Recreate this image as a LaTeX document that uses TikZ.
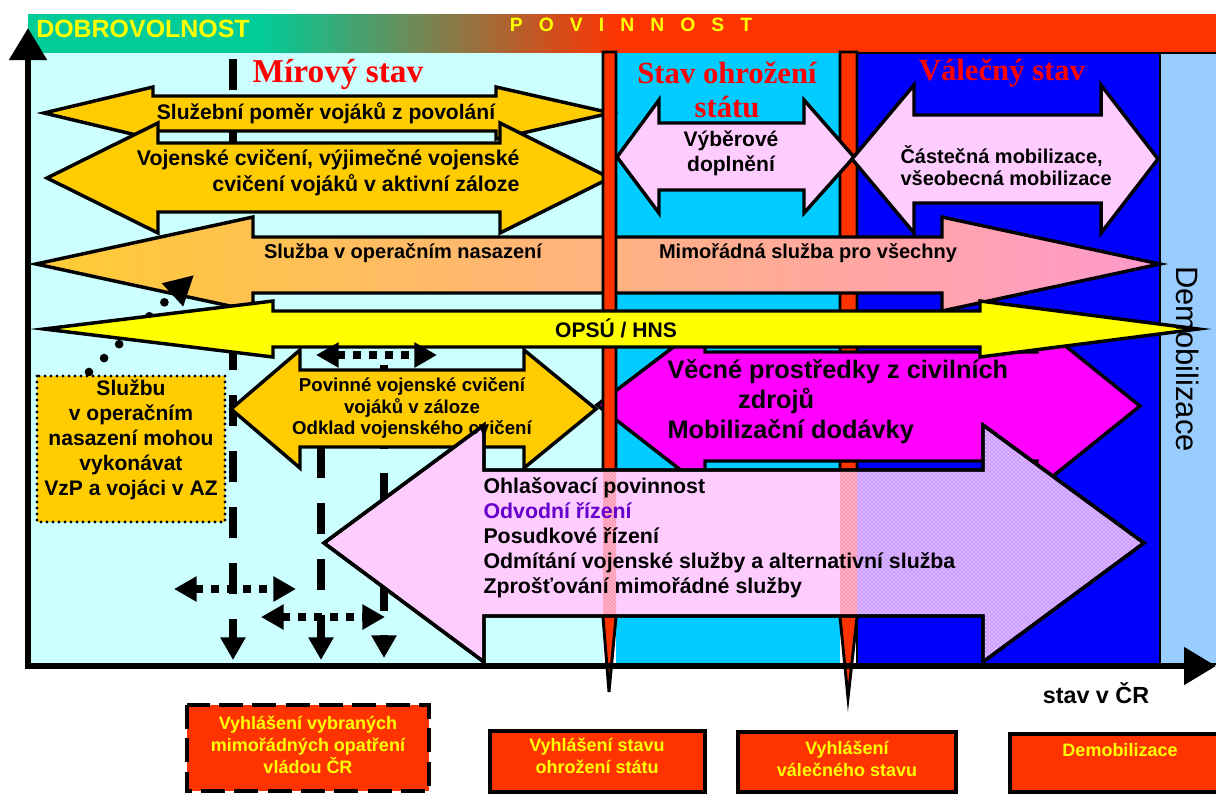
\documentclass[tikz,border=0pt]{standalone}
\usepackage{fontspec}
\setmainfont{Liberation Serif}
\setsansfont{Liberation Sans}
\usepackage{tikz}
\usetikzlibrary{arrows.meta, patterns}

\definecolor{mirfill}{RGB}{204,255,255}
\definecolor{ohrfill}{RGB}{0,204,255}
\definecolor{valfill}{RGB}{0,0,255}
\definecolor{demfill}{RGB}{153,204,255}
\definecolor{barred}{RGB}{255,51,0}
\definecolor{dobgreen}{RGB}{0,204,153}
\definecolor{arrorange}{RGB}{255,204,0}
\definecolor{arryellow}{RGB}{255,255,0}
\definecolor{arrpink}{RGB}{255,204,255}
\definecolor{arrmagenta}{RGB}{255,0,255}
\definecolor{sluzleft}{RGB}{255,204,51}
\definecolor{sluzright}{RGB}{255,153,204}
\definecolor{statered}{RGB}{255,0,0}
\definecolor{odvodviolet}{RGB}{102,0,204}
\definecolor{textyellow}{RGB}{255,255,0}

\tikzset{every picture/.style={line width=0.75pt}}
\tikzset{
  arrowbody/.style={draw=black, line width=2.6pt, line join=miter},
  redbar/.style={draw=black, line width=2.2pt, fill=barred},
  dashline/.style={line width=6pt, dash pattern=on 23.25pt off 18.75pt, -{Triangle[length=17pt,width=18pt]}},
  dotarrow/.style={line width=6pt, dash pattern=on 6pt off 6pt, {Triangle[length=17pt,width=18pt]}-{Triangle[length=17pt,width=18pt]}},
  dotdiag/.style={line width=6.5pt, line cap=round, dash pattern=on 0pt off 15.4pt, -{Triangle[length=22pt,width=22pt]}},
  axisline/.style={line width=4.5pt, -{Triangle[length=24pt,width=27.5pt]}},
  lbl/.style={inner sep=0pt, align=center, font=\sffamily\bfseries\fontsize{15.5}{19.5}\selectfont},
  statelbl/.style={inner sep=0pt, align=center, text=statered, font=\rmfamily\bfseries\fontsize{23}{25.5}\selectfont},
  declbox/.style={draw=black, line width=3pt, fill=barred},
  decllbl/.style={inner sep=0pt, align=center, text=textyellow, font=\sffamily\bfseries\fontsize{13.5}{16.5}\selectfont},
}

\begin{document}
\begin{tikzpicture}[x=0.75pt,y=0.75pt,yscale=-1,xscale=1]
\useasboundingbox (0,0) rectangle (1216,794);

%Shape: Rectangle [top bar]
\fill[dobgreen] (28,14) rectangle (259,53);
\shade[left color=dobgreen, right color=barred] (259,14) rectangle (620,53);
\fill[barred] (620,14) rectangle (1216,53);

%Shape: Rectangle [state panels]
\fill[mirfill] (28,53) rectangle (603,664);
\fill[ohrfill] (616,53) rectangle (840,664);
\draw[line width=1.5pt, fill=valfill] (857,53) rectangle (1160,664);
\draw[line width=1.5pt, fill=demfill] (1160,53) rectangle (1222,664);

%Shape: Polygon [red bar, war]
\draw[redbar] (840,52) -- (857,52) -- (857,617) -- (848,698) -- (840,617) -- cycle;

%Straight Lines [dashed, down]
\draw[dashline] (233,59) -- (233,660);
\draw[dashline] (321,447) -- (321,660);
\draw[dashline, dash pattern=on 22.5pt off 18pt] (384,311) -- (384,658);

%Shape: Double Arrow [professional soldiers]
\draw[arrowbody, fill=arrorange] (44,113) -- (153,87) -- (153,96) -- (496,96) -- (496,87) -- (611,113) -- (496,139) -- (496,131) -- (153,131) -- (153,139) -- cycle;
%Shape: Double Arrow [exercises]
\draw[arrowbody, fill=arrorange] (47,178) -- (158,123) -- (158,143) -- (500,143) -- (500,123) -- (610,178) -- (500,233) -- (500,212) -- (158,212) -- (158,233) -- cycle;
%Shape: Double Arrow [operational service]
\draw[arrowbody, left color=sluzleft, right color=sluzright] (36,264) -- (253,217) -- (253,237) -- (942,237) -- (942,217) -- (1160,264) -- (942,311) -- (942,293) -- (253,293) -- (253,311) -- cycle;
%Shape: Double Arrow [civil resources]
\draw[arrowbody, fill=arrmagenta] (597,405) -- (705,323) -- (705,352) -- (1037,352) -- (1037,323) -- (1140,406) -- (1037,489) -- (1037,461) -- (705,461) -- (705,489) -- cycle;

%Shape: Polygon [red bar, threat]
\draw[redbar] (603,52) -- (616,52) -- (616,617) -- (609,692) -- (603,617) -- cycle;

%Shape: Double Arrow [selective]
\draw[arrowbody, fill=arrpink] (617,157) -- (659,100) -- (659,123) -- (804,123) -- (804,100) -- (854,157) -- (804,213) -- (804,190) -- (659,190) -- (659,213) -- cycle;
%Shape: Double Arrow [mobilisation]
\draw[arrowbody, fill=arrpink] (852,159) -- (914,85) -- (914,115) -- (1101,115) -- (1101,85) -- (1158,159) -- (1101,233) -- (1101,203) -- (914,203) -- (914,233) -- cycle;

%Straight Lines [dotted, diagonal]
\draw[dotdiag] (89,372) -- (194,275);

%Shape: Double Arrow [OPSU / HNS]
\draw[arrowbody, fill=arryellow] (44,329) -- (273,301) -- (273,311) -- (980,311) -- (980,301) -- (1198,329) -- (980,357) -- (980,347) -- (273,347) -- (273,357) -- cycle;
%Shape: Double Arrow [reserve exercises]
\draw[arrowbody, fill=arrorange] (231,409) -- (300,350) -- (300,370) -- (524,370) -- (524,350) -- (596,409) -- (524,468) -- (524,447) -- (300,447) -- (300,468) -- cycle;

%Shape: Double Arrow [duties]
\draw[arrowbody, fill=arrpink] (324,543) -- (484,425) -- (484,470) -- (983,470) -- (983,425) -- (1144,543) -- (983,662) -- (983,616) -- (484,616) -- (484,662) -- cycle;
\begin{scope}
\clip (324,543) -- (484,425) -- (484,470) -- (983,470) -- (983,425) -- (1144,543) -- (983,662) -- (983,616) -- (484,616) -- (484,662) -- cycle;
\fill[valfill, opacity=0.12] (857,420) rectangle (1160,665);
\fill[pattern=crosshatch dots, pattern color=valfill!55!arrpink] (857,420) rectangle (1160,665);
\fill[barred, opacity=0.2] (603,420) rectangle (616,665) (840,420) rectangle (857,665);
\fill[pattern=crosshatch dots, pattern color=barred!70!arrpink] (603,420) rectangle (616,665) (840,420) rectangle (857,665);
\end{scope}
\draw[arrowbody] (324,543) -- (484,425) -- (484,470) -- (983,470) -- (983,425) -- (1144,543) -- (983,662) -- (983,616) -- (484,616) -- (484,662) -- cycle;

%Shape: Rectangle [dotted box]
\draw[fill=arrorange, line width=2.5pt, line cap=round, dash pattern=on 0pt off 4.5pt] (37,376) rectangle (225,522);

%Straight Lines [dotted, both ways]
\draw[dotarrow] (174,589) -- (296,589);
\draw[dotarrow] (261,617) -- (385,617);
\draw[dotarrow] (316,355) -- (437,355);

%Straight Lines [axes]
\draw[axisline] (28,669) -- (28,28);
\draw[axisline] (25,666) -- (1216,666);

%Shape: Rectangle [declarations]
\draw[declbox, dash pattern=on 18pt off 7pt] (187,705) rectangle (429,791);
\draw[declbox] (490,731) rectangle (705,792);
\draw[declbox] (738,732) rectangle (956,792);
\draw[declbox] (1010,734) rectangle (1240,792);

% Text Node
\node[lbl, text=textyellow, font=\sffamily\bfseries\fontsize{18.7}{20}\selectfont] (dobrovolnost) at (143,29) {DOBROVOLNOST};
% Text Node
\node[lbl, text=textyellow, font=\sffamily\bfseries\fontsize{14.5}{16}\selectfont] (povinnost) at (631,25) {P\hspace{8pt} O\hspace{8pt} V\hspace{8pt} I\hspace{8pt} N\hspace{8pt} N\hspace{8pt} O\hspace{8pt} S\hspace{8pt} T};
% Text Node
\node[statelbl, font=\rmfamily\bfseries\fontsize{25}{27}\selectfont] (mirovy) at (338,75) {Mírový stav};
% Text Node
\node[statelbl] (ohrozeni) at (727,90) {Stav ohrožení\\státu};
% Text Node
\node[statelbl] (valecny) at (1002,73) {Válečný stav};
% Text Node
\node[lbl, font=\sffamily\bfseries\fontsize{15.8}{19.5}\selectfont] (sluzebni) at (326,113) {Služební poměr vojáků z povolání};
% Text Node
\node[lbl, align=right, anchor=east, font=\sffamily\bfseries\fontsize{16}{19.5}\selectfont] (cviceni) at (520,173) {Vojenské cvičení, výjimečné vojenské\\cvičení vojáků v aktivní záloze};
% Text Node
\node[lbl, font=\sffamily\bfseries\fontsize{15}{18}\selectfont] (sluzba) at (403,253) {Služba v operačním nasazení};
% Text Node
\node[lbl, font=\sffamily\bfseries\fontsize{15}{18}\selectfont] (mimoradna) at (808,253) {Mimořádná služba pro všechny};
% Text Node
\node[lbl, font=\sffamily\bfseries\fontsize{15.8}{18}\selectfont] (opsu) at (616,328) {OPSÚ / HNS};
% Text Node
\node[lbl, font=\sffamily\bfseries\fontsize{14}{16}\selectfont] (povinne) at (412,408) {Povinné vojenské cvičení\\vojáků v záloze\\Odklad vojenského cvičení};
% Text Node
\node[lbl, align=left, anchor=west, font=\sffamily\bfseries\fontsize{19}{22.5}\selectfont] (vecne) at (667,402) {Věcné prostředky z civilních\\\hspace*{53pt}zdrojů\\Mobilizační dodávky};
% Text Node
\node[lbl, align=left, anchor=west, font=\sffamily\bfseries\fontsize{16}{18.75}\selectfont] (povinnosti) at (483,538) {Ohlašovací povinnost\\\textcolor{odvodviolet}{Odvodní řízení}\\Posudkové řízení\\Odmítání vojenské služby a alternativní služba\\Zprošťování mimořádné služby};
% Text Node
\node[lbl, font=\sffamily\bfseries\fontsize{15.8}{18.75}\selectfont] (vyberove) at (731,153) {Výběrové\\doplnění};
% Text Node
\node[lbl, align=left, anchor=west, font=\sffamily\bfseries\fontsize{15}{16.5}\selectfont] (castecna) at (900,166) {Částečná mobilizace,\\všeobecná mobilizace};
% Text Node
\node[lbl, font=\sffamily\bfseries\fontsize{15.8}{18.75}\selectfont] (sluzbu) at (131,440) {Službu\\v operačním\\nasazení mohou\\vykonávat\\VzP a vojáci v AZ};
% Text Node
\node[inner sep=0pt, rotate=-90, font=\sffamily\fontsize{23.2}{23}\selectfont] (demobil) at (1188,359) {Demobilizace};
% Text Node
\node[lbl, font=\sffamily\bfseries\fontsize{17.5}{18}\selectfont] (stavcr) at (1096,693) {stav v ČR};
% Text Node
\node[decllbl] (vybrana) at (308,745) {Vyhlášení vybraných\\mimořádných opatření\\vládou ČR};
% Text Node
\node[decllbl] (ohrozenidecl) at (597,756) {Vyhlášení stavu\\ohrožení státu};
% Text Node
\node[decllbl] (valkadecl) at (847,759) {Vyhlášení\\válečného stavu};
% Text Node
\node[decllbl] (demobdecl) at (1120,750) {Demobilizace};

\end{tikzpicture}
\end{document}
